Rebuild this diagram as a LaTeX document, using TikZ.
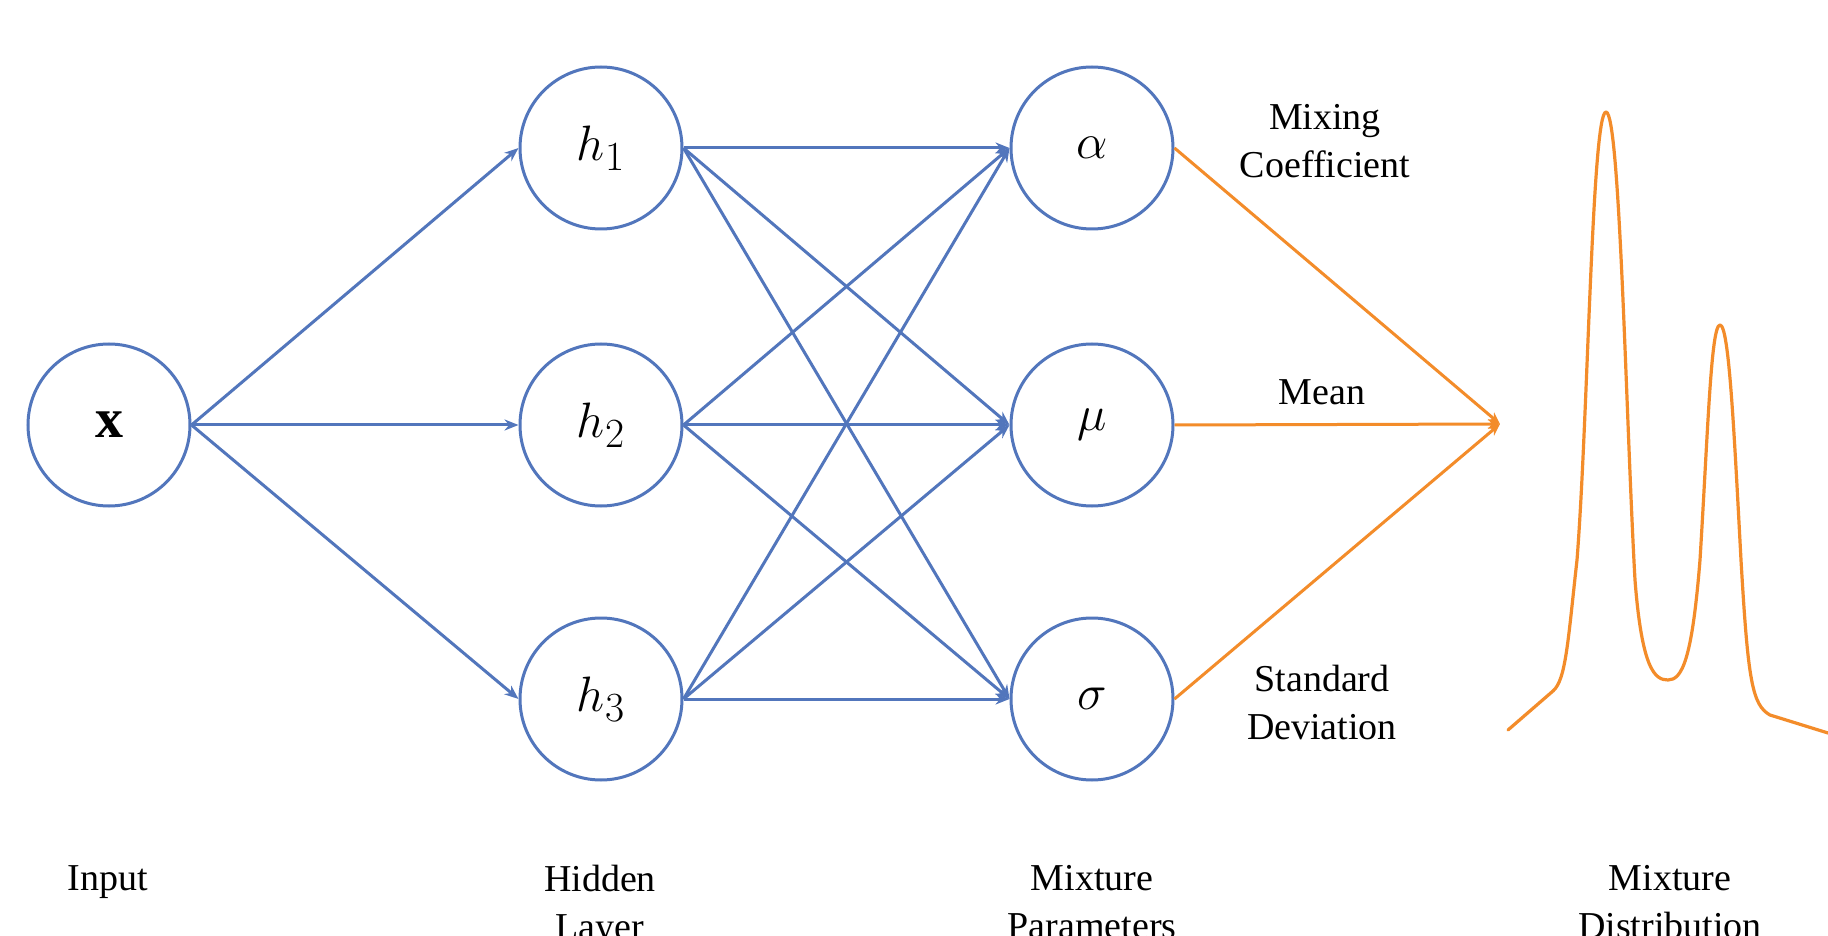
\documentclass[tikz,border=0pt]{standalone}
\usepackage{fontspec}
\setmainfont{Liberation Serif}
\usetikzlibrary{arrows.meta}
\definecolor{nnblue}{RGB}{82,118,188}
\definecolor{nnorange}{RGB}{243,140,42}
\begin{document}
\begin{tikzpicture}[x=0.5pt,y=-0.5pt,
  neuron/.style={circle,draw=nnblue,line width=1.5pt,minimum size=81pt,inner sep=0pt,font=\fontsize{28}{30}\selectfont},
  conn/.style={nnblue,line width=1.5pt,-{Stealth[length=7pt,width=5.5pt]}},
  oconn/.style={nnorange,line width=1.5pt,-{Stealth[length=6pt,width=5pt]}},
  lbl/.style={font=\fontsize{19}{24}\selectfont,align=center,inner sep=0pt}]
\useasboundingbox[fill=white] (0,0) rectangle (1828,936);
% nodes
\node[neuron] (x) at (109,425) {$\mathbf{x}$};
\node[neuron] (h1) at (601,148) {$h_1$};
\node[neuron] (h2) at (601,425) {$h_2$};
\node[neuron] (h3) at (601,699) {$h_3$};
\node[neuron] (a) at (1092,148) {$\alpha$};
\node[neuron] (m) at (1092,425) {$\mu$};
\node[neuron] (s) at (1092,699) {$\sigma$};
\coordinate (conv) at (1500,424);
% connectors
\foreach \h in {h1,h2,h3} \draw[conn] (x.east) -- (\h.west);
\foreach \h in {h1,h2,h3} \foreach \p in {a,m,s} \draw[conn] (\h.east) -- (\p.west);
\foreach \p in {a,m,s} \draw[oconn] (\p.east) -- (conv);
% labels
\node[lbl,anchor=north] (lmix) at (1325,104) {Mixing\\Coefficient};
\node[lbl,anchor=base] (lmean) at (1322,405) {Mean};
\node[lbl,anchor=north] (lstd) at (1322,665) {Standard\\Deviation};
\node[lbl,anchor=north] (lin) at (108,865) {Input};
\node[lbl,anchor=north] (lhid) at (600,865) {Hidden\\Layer};
\node[lbl,anchor=north] (lpar) at (1092,865) {Mixture\\Parameters};
\node[lbl,anchor=north] (ldist) at (1670,865) {Mixture\\Distribution};
% mixture distribution curve
\draw[nnorange,line width=1.6pt,line join=round,line cap=round]
  (1508,730) -- (1553,691)
  .. controls (1566,680) and (1568,640) .. (1577,560)
  .. controls (1588,420) and (1592,112) .. (1606,112)
  .. controls (1620,112) and (1626,420) .. (1635,580)
  .. controls (1642,670) and (1655,680) .. (1668,680)
  .. controls (1682,680) and (1692,660) .. (1700,560)
  .. controls (1708,430) and (1711,325) .. (1720,325)
  .. controls (1729,325) and (1734,430) .. (1741,560)
  .. controls (1748,680) and (1752,705) .. (1770,715)
  -- (1828,733);
\end{tikzpicture}
\end{document}
